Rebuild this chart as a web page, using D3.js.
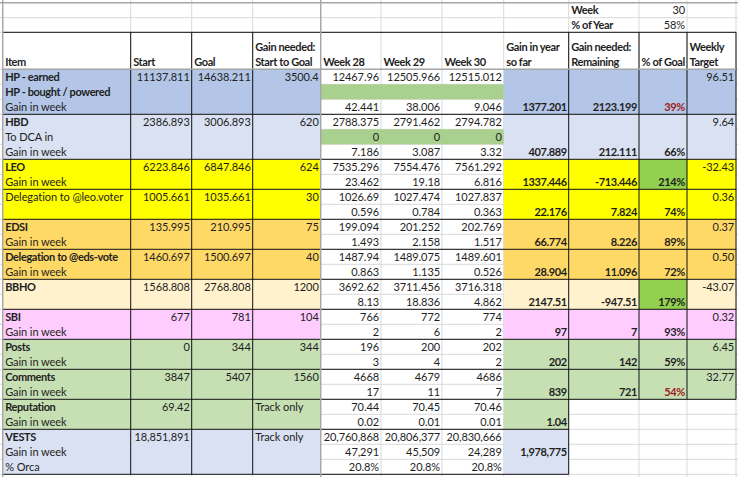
<!DOCTYPE html>
<html>
<head>
<meta charset="utf-8">
<script src="https://cdn.jsdelivr.net/npm/d3@7"></script>
<style>
  html, body { margin: 0; padding: 0; background: #fff; }
  svg { display: block; }
  text { font-family: Lato, "Open Sans", sans-serif; font-size: 11px; fill: #1e1e1e; letter-spacing: -0.08px; }
  text.bold { font-weight: 700; letter-spacing: -0.38px; }
</style>
</head>
<body>
<svg id="sheet" width="738" height="477"></svg>
<script>
var items = ['HP - earned', 'HP - bought / powered', 'Gain in week', 'HBD', 'To DCA in', 'Gain in week', 'LEO', 'Gain in week',
  'Delegation to @leo.voter', '', 'EDSI', 'Gain in week', 'Delegation to @eds-vote', 'Gain in week', 'BBHO', '', 'SBI', 'Gain in week',
  'Posts', 'Gain in week', 'Comments', 'Gain in week', 'Reputation', 'Gain in week', 'VESTS', 'Gain in week', '% Orca'];
var boldItems = ['HP - earned', 'HP - bought / powered', 'HBD', 'LEO', 'EDSI', 'Delegation to @eds-vote', 'BBHO', 'SBI', 'Posts', 'Comments', 'Reputation', 'VESTS'];

var starts = ['11137.811', '', '', '2386.893', '', '', '6223.846', '', '1005.661', '', '135.995', '', '1460.697', '', '1568.808', '', '677', '', '0', '', '3847', '', '69.42', '', '18,851,891', '', ''];
var goals = ['14638.211', '', '', '3006.893', '', '', '6847.846', '', '1035.661', '', '210.995', '', '1500.697', '', '2768.808', '', '781', '', '344', '', '5407', '', '', '', '', '', ''];
var gainsNeeded = ['3500.4', '', '', '620', '', '', '624', '', '30', '', '75', '', '40', '', '1200', '', '104', '', '344', '', '1560', '', 'Track only', '', 'Track only', '', ''];
var week28 = ['12467.96', '', '42.441', '2788.375', '0', '7.186', '7535.296', '23.462', '1026.69', '0.596', '199.094', '1.493', '1487.94', '0.863', '3692.62', '8.13', '766', '2', '196', '3', '4668', '17', '70.44', '0.02', '20,760,868', '47,291', '20.8%'];
var week29 = ['12505.966', '', '38.006', '2791.462', '0', '3.087', '7554.476', '19.18', '1027.474', '0.784', '201.252', '2.158', '1489.075', '1.135', '3711.456', '18.836', '772', '6', '200', '4', '4679', '11', '70.45', '0.01', '20,806,377', '45,509', '20.8%'];
var week30 = ['12515.012', '', '9.046', '2794.782', '0', '3.32', '7561.292', '6.816', '1027.837', '0.363', '202.769', '1.517', '1489.601', '0.526', '3716.318', '4.862', '774', '2', '202', '2', '4686', '7', '70.46', '0.01', '20,830,666', '24,289', '20.8%'];
var gainYear = ['', '', '1377.201', '', '', '407.889', '', '1337.446', '', '22.176', '', '66.774', '', '28.904', '', '2147.51', '', '97', '', '202', '', '839', '', '1.04', '', '1,978,775', ''];
var remaining = ['', '', '2123.199', '', '', '212.111', '', '-713.446', '', '7.824', '', '8.226', '', '11.096', '', '-947.51', '', '7', '', '142', '', '721', '', '', '', '', ''];
var pctGoal = ['', '', '39%', '', '', '66%', '', '214%', '', '74%', '', '89%', '', '72%', '', '179%', '', '93%', '', '59%', '', '54%', '', '', '', '', ''];
var weeklyTarget = ['96.51', '', '', '9.64', '', '', '-32.43', '', '0.36', '', '0.37', '', '0.50', '', '-43.07', '', '0.32', '', '6.45', '', '32.77', '', '', '', '', '', ''];

var headerTop = ['', '', '', 'Gain needed:', '', '', '', 'Gain in year', 'Gain needed:', '', 'Weekly'];
var headerBottom = ['Item', 'Start', 'Goal', 'Start to Goal', 'Week 28', 'Week 29', 'Week 30', 'so far', 'Remaining', '% of Goal', 'Target'];

// first row of each coloured block
var blockStarts = [0, 3, 6, 8, 10, 12, 14, 16, 18, 20, 22, 24, 27];
var missedGoals = ['39%', '54%'];
var passedGoals = ['214%', '179%'];

// layout and styles
var edges = [2.7, 130.7, 191.7, 252.7, 320.7, 381, 442, 503.7, 568.7, 639, 687, 736];
var blockFills = ['#b4c6e7', '#d9e1f2', '#ffff00', '#ffff00', '#ffd966', '#ffd966', '#fff2cc', '#ffccff', '#c6e0b4', '#c6e0b4', '#c6e0b4', '#d9e1f2'];
var green = '#a9d08e', brightGreen = '#92d050', grid = '#d9d9d9', frame = '#a6a6a6', red = '#9c1c1c';

var svg = d3.select('#sheet');
var x = d3.scaleOrdinal(d3.range(edges.length), edges);
var y = d3.scaleLinear().domain([0, 27]).range([69.3, 474.3]);
var columns = [starts, goals, gainsNeeded, week28, week29, week30, gainYear, remaining, pctGoal, weeklyTarget];

function hline(y0, x0, x1, colour, w) {
  svg.append('line').attr('x1', x0).attr('x2', x1).attr('y1', y0).attr('y2', y0)
    .attr('stroke', colour).attr('stroke-width', w);
}
function vline(x0, y0, y1, colour, w) {
  svg.append('line').attr('x1', x0).attr('x2', x0).attr('y1', y0).attr('y2', y1)
    .attr('stroke', colour).attr('stroke-width', w);
}
function rect(c0, c1, r0, r1, fill) {
  svg.append('rect').attr('x', x(c0)).attr('width', x(c1) - x(c0))
    .attr('y', y(r0)).attr('height', y(r1) - y(r0)).attr('fill', fill);
}

// pale sheet grid
edges.forEach(function (e) { vline(e, 0, 477, grid, 1); });
[17.7, 32.3].concat(d3.range(0, 28).map(y)).forEach(function (g) { hline(g, 0, 738, grid, 1); });

// coloured blocks
blockFills.forEach(function (fill, i) {
  var r0 = blockStarts[i], r1 = blockStarts[i + 1];
  rect(0, 4, r0, r1, fill);
  rect(7, r0 >= 22 ? 8 : 11, r0, r1, fill);
  if (passedGoals.indexOf(pctGoal[r0 + 1]) >= 0) rect(9, 10, r0, r1, brightGreen);
});
[1, 4].forEach(function (r) { rect(4, 7, r, r + 1, green); });

// black rules
hline(32.3, x(0), x(11), '#111', 1);
blockStarts.slice(1).forEach(function (r) {
  hline(y(r), x(0), r > 22 ? x(8) : x(11), '#111', 1);
});
[1, 2, 3, 8].forEach(function (c) { vline(x(c), 32.3, y(27), '#111', 1); });
[9, 10, 11].forEach(function (c) { vline(x(c), 32.3, y(22), '#111', 1); });

// sheet frame
hline(2.7, 0, 738, frame, 1.4);
hline(y(0), x(0), x(11), frame, 1.4);
vline(x(0), 0, 477, frame, 1.4);
vline(x(4), 0, 477, frame, 1.4);

function leftCell(c, baseline, value, bold) {
  if (value === '') return;
  svg.append('text').attr('x', x(c) + 2.5).attr('y', baseline).text(value)
    .classed('bold', !!bold);
}
function rightCell(c, baseline, value, bold, colour) {
  if (value === '') return;
  svg.append('text').attr('x', x(c + 1) - 2).attr('y', baseline).attr('text-anchor', 'end').text(value)
    .classed('bold', !!bold).style('fill', colour || null);
}

// top corner
leftCell(8, 14, 'Week', true);
leftCell(8, 29, '% of Year', true);
rightCell(9, 14, '30', false);
rightCell(9, 29, '58%', false);

// header
headerTop.forEach(function (t, c) { leftCell(c, 51, t, true); });
headerBottom.forEach(function (t, c) { leftCell(c, 66, t, true); });

// body
items.forEach(function (item, r) {
  var base = y(r + 1) - 3.2;
  leftCell(0, base, item, boldItems.indexOf(item) >= 0);
  columns.forEach(function (col, i) {
    var c = i + 1, v = col[r];
    if (v === 'Track only') { leftCell(c, base, v, false); return; }
    rightCell(c, base, v, c >= 7 && c <= 9, missedGoals.indexOf(v) >= 0 ? red : null);
  });
});
</script>
</body>
</html>
